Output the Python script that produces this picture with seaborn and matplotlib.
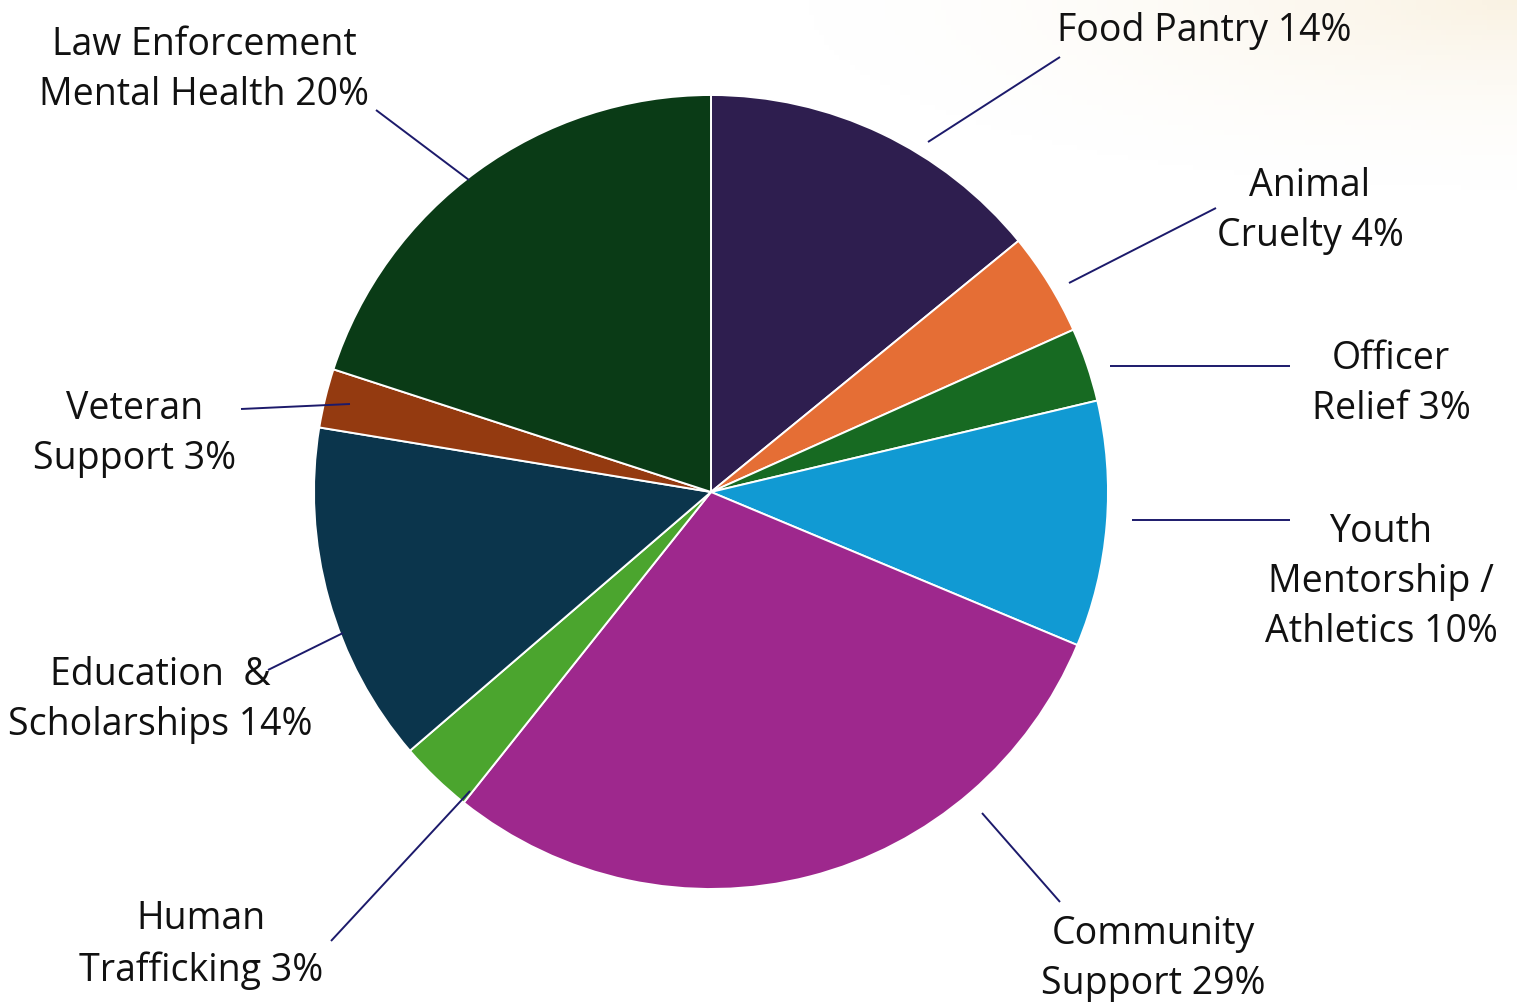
import numpy as np
import matplotlib
matplotlib.use("Agg")
import matplotlib.pyplot as plt
import seaborn as sns

# slices, clockwise from 12 o'clock
categories = ["Food Pantry", "Animal Cruelty", "Officer Relief", "Youth Mentorship / Athletics",
              "Community Support", "Human Trafficking", "Education & Scholarships",
              "Veteran Support", "Law Enforcement Mental Health"]
shares = [14.1, 4.2, 3.0, 10.0, 29.4, 3.0, 13.9, 2.4, 20.0]
labels = ["Food Pantry 14%", "Animal\nCruelty 4%", "Officer\nRelief 3%",
          "Youth\nMentorship /\nAthletics 10%", "Community\nSupport 29%",
          "Human\nTrafficking 3%", "Education  &\nScholarships 14%",
          "Veteran\nSupport 3%", "Law Enforcement\nMental Health 20%"]
colors = ["#2E1E4F", "#E56E35", "#176A22", "#119AD3", "#9E288D",
          "#4BA52E", "#0B354C", "#943A10", "#0A3B16"]

# layout in pixels (reference is 1517x1002), pie centre and radius
W, H = 1517, 1002
CX, CY, R = 711, 492, 397
label_xy = [(1204, 31), (1310, 211), (1391, 384), (1381, 582), (1153, 959),
            (201, 945), (160, 700), (135, 434), (204, 70)]
leader = [((1060, 57), (928, 142)), ((1216, 208), (1069, 283)),
          ((1290, 366), (1110, 366)), ((1290, 520), (1132, 520)),
          ((1060, 902), (982, 813)), ((331, 941), (470, 791)),
          ((268, 670), (343, 633)), ((241, 409), (350, 404)),
          ((376, 110), (469, 180))]


def px(x, y):
    return (x - CX) / R, (CY - y) / R


sns.set_theme(style="white")
plt.rcParams["font.family"] = ["Open Sans", "DejaVu Sans"]

fig = plt.figure(figsize=(W / 100, H / 100), dpi=100)
ax = fig.add_axes([0, 0, 1, 1])
ext = (-CX / R, (W - CX) / R, -(H - CY) / R, CY / R)

# faint warm glow in the top right corner
gx, gy = np.meshgrid(np.linspace(0, 1, 300), np.linspace(0, 1, 200))
d = np.sqrt(((gx - 1) / 0.5) ** 2 + (gy / 0.2) ** 2)
glow = np.zeros((200, 300, 4))
glow[..., 0], glow[..., 1], glow[..., 2] = 0.96, 0.90, 0.78
glow[..., 3] = np.clip(1 - d, 0, 1) ** 1.8 * 0.5
ax.imshow(glow, extent=ext, origin="upper", zorder=0, aspect="auto")

ax.pie(shares, colors=colors, startangle=90, counterclock=False, radius=1,
       wedgeprops=dict(edgecolor="white", linewidth=1.4), center=(0, 0),
       frame=False)
ax.set_xlim(ext[0], ext[1])
ax.set_ylim(ext[2], ext[3])
ax.set_aspect("auto")
ax.axis("off")

for (p0, p1) in leader:
    x0, y0 = px(*p0)
    x1, y1 = px(*p1)
    ax.plot([x0, x1], [y0, y1], color="#1C1A6B", lw=1.4, zorder=5,
            solid_capstyle="butt")

for lab, (lx, ly) in zip(labels, label_xy):
    tx, ty = px(lx, ly)
    ax.text(tx, ty, lab, ha="center", va="center", fontsize=27,
            color="#111111", linespacing=1.42, zorder=6)

fig.savefig("out.png", dpi=100)
